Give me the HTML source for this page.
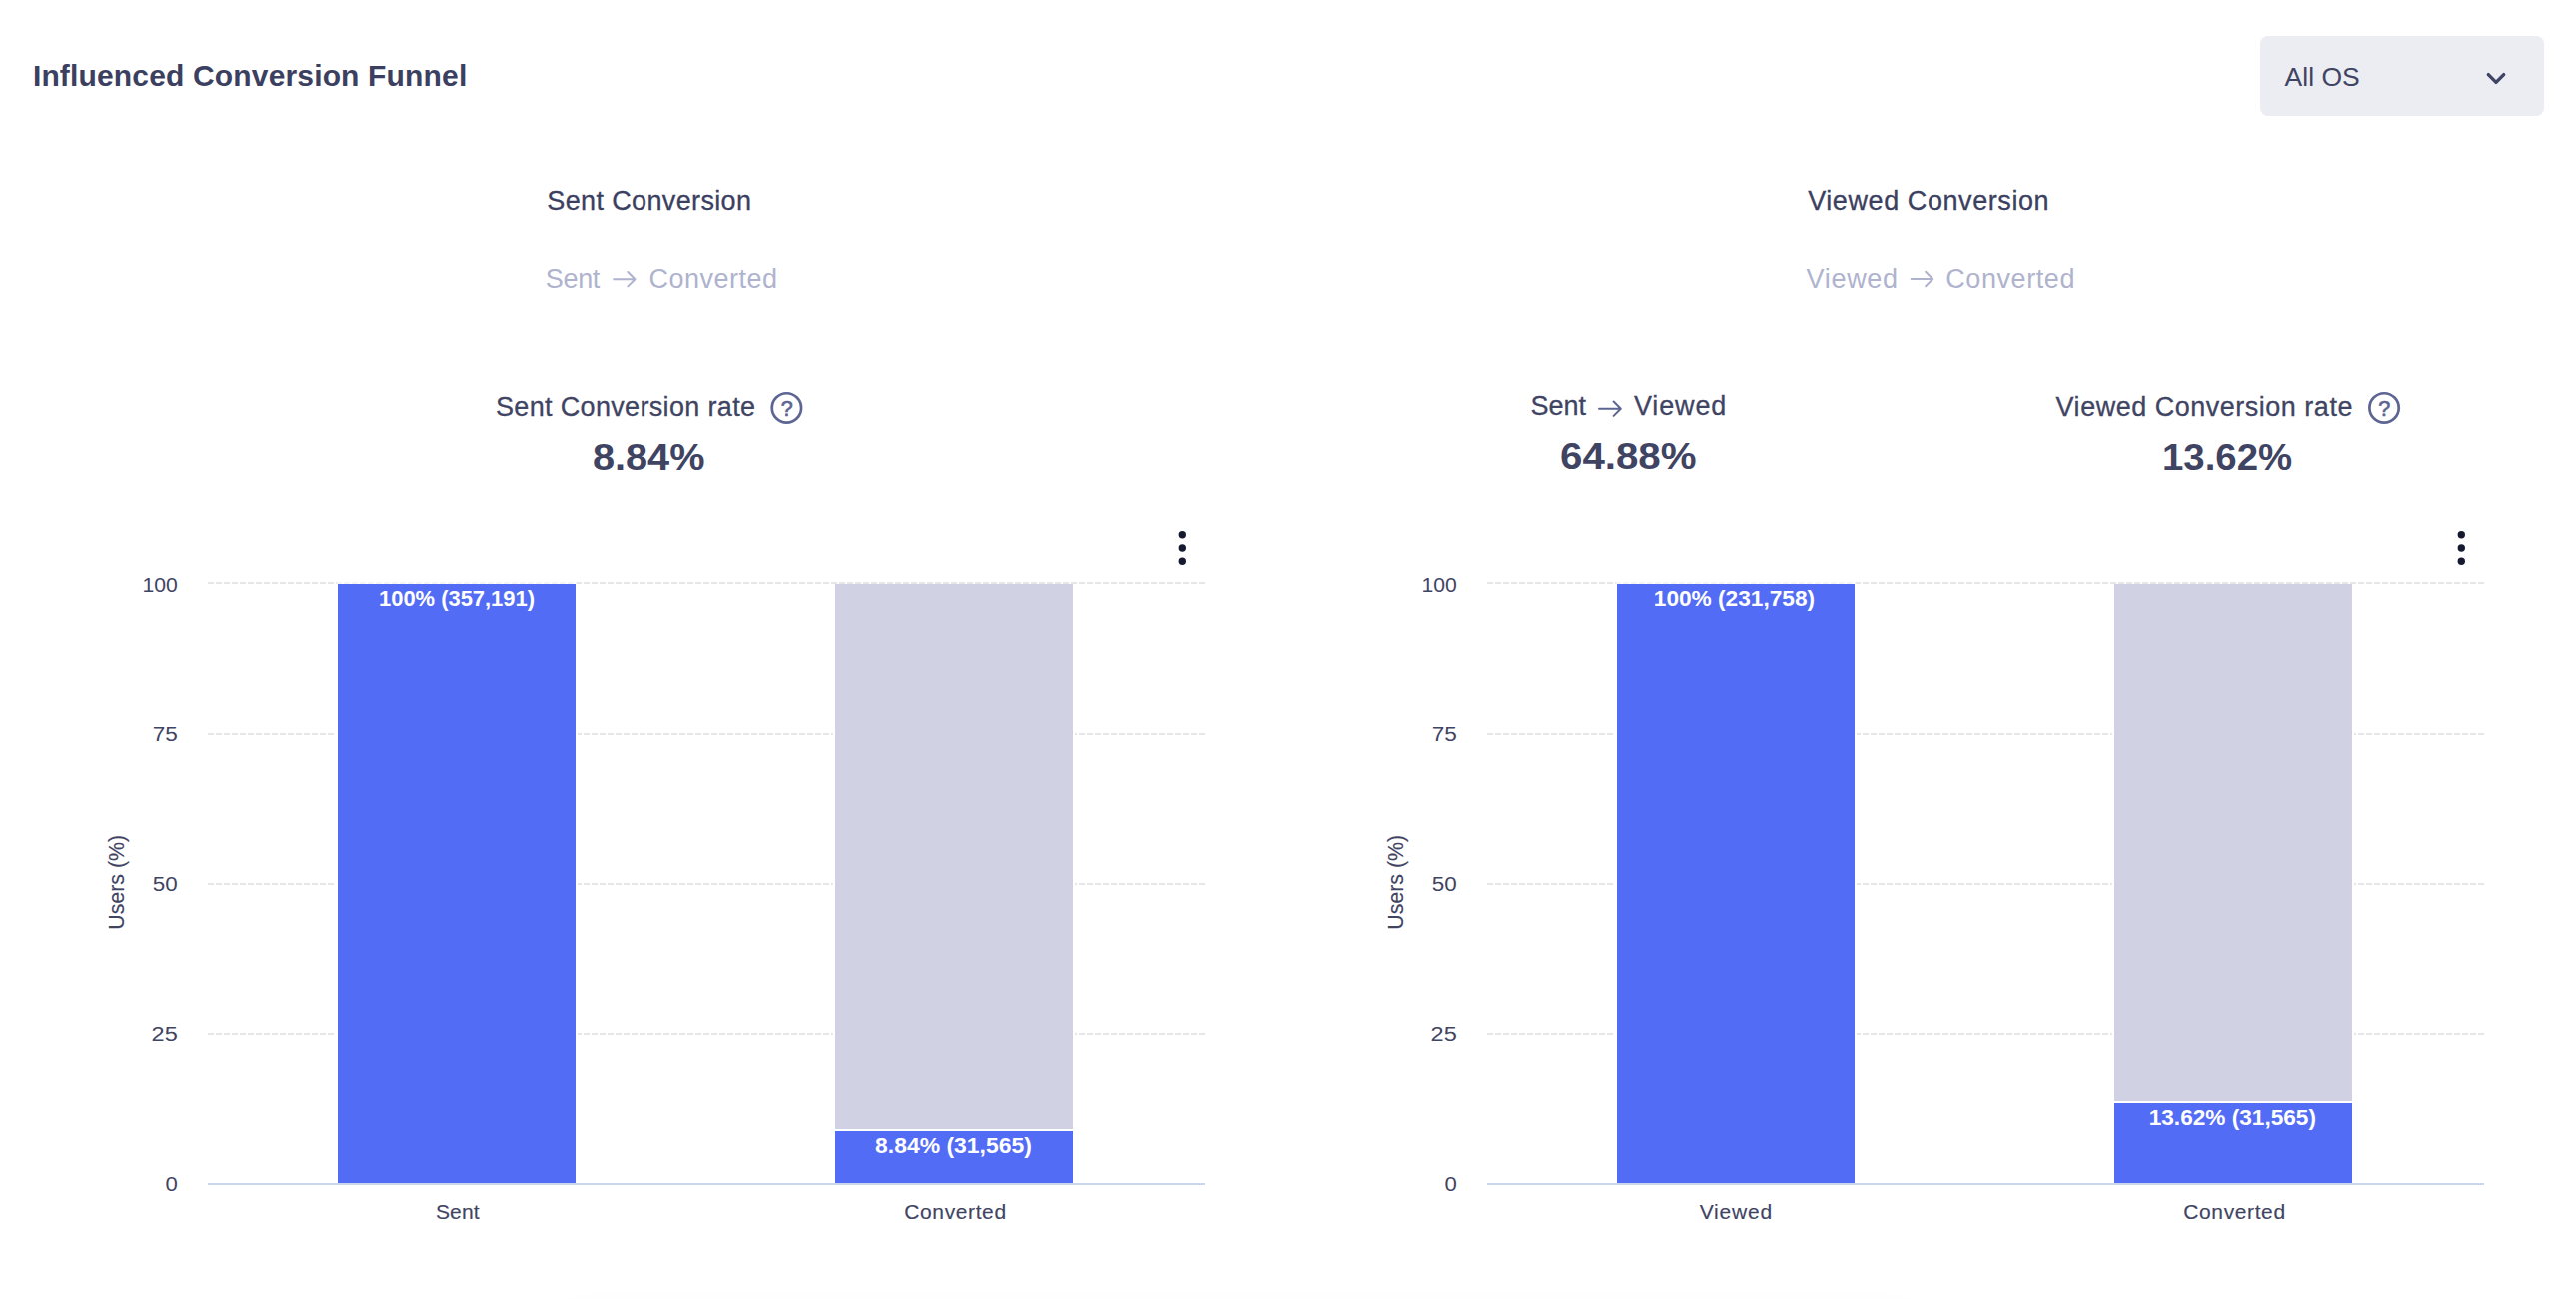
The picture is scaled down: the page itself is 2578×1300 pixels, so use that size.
<!DOCTYPE html>
<html lang="en"><head><meta charset="utf-8"><title>Influenced Conversion Funnel</title>
<style>
*{box-sizing:border-box}
html,body{margin:0;padding:0;background:#fff}
html{width:2578px;height:1300px;overflow:hidden}
body{width:2578px;height:1300px;position:relative;overflow:hidden;font-family:"Liberation Sans",Arial,sans-serif;color:#3f4463}
.card{position:absolute;left:0;top:0;width:2578px;height:1300px;background:#fff;overflow:hidden}
.t{position:absolute;margin:0;white-space:nowrap;font-weight:400;transform-origin:0 0}
.p-title,.m-label{-webkit-text-stroke:0.3px currentColor}
.ax{stroke:#3f4463;stroke-width:0.15px}
h2.t{font-weight:700}
.card-header,.panel,.flow,.metric,.chart-wrap{display:block;margin:0;padding:0;position:static}
.dropdown{position:static}
.dropdown::before{content:"";position:absolute;left:2262px;top:36px;width:284px;height:80px;border-radius:8px;background:#ecedf3}
.below-shadow{position:absolute;left:566px;top:1322px;width:1350px;height:60px;border-radius:8px;box-shadow:0 0 36px 6px rgba(30,35,70,.035)}
svg{position:absolute;overflow:visible}
svg text{font-family:"Liberation Sans",Arial,sans-serif}
</style></head><body>
<section class="card">
<div class="below-shadow"></div>
<header class="card-header">
<h2 class="t title" style="left:32.9px;top:57.5px;font-size:30px;line-height:36px;letter-spacing:0.159px;color:#3b4060;font-weight:700">Influenced Conversion Funnel</h2>
<div class="dropdown" role="button">
<span class="t dd-label" style="left:2286.6px;top:61.3px;font-size:26.5px;line-height:32px;letter-spacing:-0.005px;color:#3f4463">All OS</span>
<svg class="chev" style="left:2484px;top:67px" width="28" height="24" viewBox="0 0 28 24"><path d="M6.3 7.6L14 15.4L21.7 7.6" fill="none" stroke="#3f4463" stroke-width="3.4" stroke-linecap="round" stroke-linejoin="round"/></svg>
</div>
</header>
<article class="panel panel-sent">
<div class="t p-title" style="left:547.3px;top:185.2px;font-size:27px;line-height:32px;letter-spacing:0.365px;color:#3b4060">Sent Conversion</div>
<div class="flow"><div class="t p-sub" style="left:545.8px;top:263.0px;font-size:27px;line-height:32px;letter-spacing:-0.347px;color:#afb3ce">Sent</div><svg class="arrow" style="left:610px;top:268px" width="31" height="24" viewBox="0 0 31 24"><path d="M4.2 11.2H25.0M18.3 4.0L25.5 11.2L18.3 18.4" fill="none" stroke="#afb3ce" stroke-width="2.0" stroke-linecap="round" stroke-linejoin="round"/></svg><div class="t p-sub" style="left:649.5px;top:263.0px;font-size:27px;line-height:32px;letter-spacing:0.481px;color:#afb3ce">Converted</div></div>
<div class="metric"><div class="t m-label" style="left:496.0px;top:391.2px;font-size:27px;line-height:32px;letter-spacing:0.336px;color:#3f4463">Sent Conversion rate</div><svg class="help" style="left:769px;top:389px" width="36" height="36" viewBox="0 0 36 36"><circle cx="18.4" cy="18.9" r="14.65" fill="none" stroke="#5d6692" stroke-width="2.7"/><text x="18.7" y="26.7" text-anchor="middle" fill="#5d6692" stroke="#5d6692" stroke-width="0.7" style="font-size:21.6px">?</text></svg><div class="t m-val" style="left:593.24px;top:434.7px;font-size:37.5px;line-height:45px;letter-spacing:0px;color:#3f4463;font-weight:700;transform:scaleX(1.0573)">8.84%</div></div>
<figure class="chart-wrap">
<svg class="chart" style="left:80px;top:500px" width="1170" height="760" viewBox="0 0 1170 760">
<path d="M128 83H1126" stroke="#e6e6e6" stroke-width="2" stroke-dasharray="6 2" fill="none"/>
<path d="M128 235H1126" stroke="#e6e6e6" stroke-width="2" stroke-dasharray="6 2" fill="none"/>
<path d="M128 385H1126" stroke="#e6e6e6" stroke-width="2" stroke-dasharray="6 2" fill="none"/>
<path d="M128 535H1126" stroke="#e6e6e6" stroke-width="2" stroke-dasharray="6 2" fill="none"/>
<path d="M128 685H1126" stroke="#ccd6eb" stroke-width="2" fill="none"/>
<rect x="257" y="82" width="240" height="2" fill="#fff" fill-opacity="0.6"/>
<rect x="256" y="84" width="242" height="600" fill="#fff"/>
<rect x="754" y="84" width="242" height="600" fill="#fff"/>
<rect x="258" y="84" width="238" height="600" fill="#536cf5"/>
<rect x="756" y="84" width="238" height="546" fill="#d0d2e3"/>
<rect x="756" y="632" width="238" height="52" fill="#536cf5"/>
<text transform="translate(44.3 383.3) rotate(-90) scale(0.955 1)" text-anchor="middle" fill="#3f4463" class="ax" style="font-size:22.4px">Users (%)</text>
<text transform="translate(62.39 92.2) scale(1.0072 1)" fill="#3f4463" class="ay" style="font-size:21px;letter-spacing:0px">100</text>
<text transform="translate(72.63 242.1) scale(1.0748 1)" fill="#3f4463" class="ay" style="font-size:21px;letter-spacing:0px">75</text>
<text transform="translate(72.8 391.9) scale(1.0671 1)" fill="#3f4463" class="ay" style="font-size:21px;letter-spacing:0px">50</text>
<text transform="translate(71.58 541.9) scale(1.1209 1)" fill="#3f4463" class="ay" style="font-size:21px;letter-spacing:0px">25</text>
<text transform="translate(85.4 692.0) scale(1.0545 1)" fill="#3f4463" class="ay" style="font-size:21px;letter-spacing:0px">0</text>
<text x="356.0" y="720.0" fill="#3f4463" class="ax" style="font-size:21px;letter-spacing:0.112px">Sent</text>
<text x="825.3" y="720.0" fill="#3f4463" class="ax" style="font-size:21px;letter-spacing:0.611px">Converted</text>
<text transform="translate(299.0 106.2) scale(0.9966 1)" fill="#ffffff" font-weight="700" class="dl" style="font-size:22px;letter-spacing:0px">100% (357,191)</text>
<text transform="translate(796.0 654.3) scale(1.0426 1)" fill="#ffffff" font-weight="700" class="dl" style="font-size:22px;letter-spacing:0px">8.84% (31,565)</text>
<circle cx="1103.3" cy="34.7" r="3.7" fill="#161a30"/>
<circle cx="1103.3" cy="48.0" r="3.7" fill="#161a30"/>
<circle cx="1103.3" cy="61.3" r="3.7" fill="#161a30"/>
</svg>
</figure>
</article>
<article class="panel panel-viewed">
<div class="t p-title" style="left:1809.2px;top:185.2px;font-size:27px;line-height:32px;letter-spacing:0.58px;color:#3b4060">Viewed Conversion</div>
<div class="flow"><div class="t p-sub" style="left:1807.6px;top:263.0px;font-size:27px;line-height:32px;letter-spacing:0.67px;color:#afb3ce">Viewed</div><svg class="arrow" style="left:1908px;top:267px" width="31" height="24" viewBox="0 0 31 24"><path d="M4.7 12.0H25.8M19.1 4.8L26.3 12.0L19.1 19.2" fill="none" stroke="#afb3ce" stroke-width="2.0" stroke-linecap="round" stroke-linejoin="round"/></svg><div class="t p-sub" style="left:1947.3px;top:263.0px;font-size:27px;line-height:32px;letter-spacing:0.568px;color:#afb3ce">Converted</div></div>
<div class="metric"><div class="t m-label" style="left:1531.6px;top:390.0px;font-size:27px;line-height:32px;letter-spacing:-0.047px;color:#3f4463">Sent</div><svg class="arrow" style="left:1596px;top:397px" width="31" height="24" viewBox="0 0 31 24"><path d="M4.0 11.7H25.3M18.6 4.5L25.8 11.7L18.6 18.9" fill="none" stroke="#5d6692" stroke-width="2.0" stroke-linecap="round" stroke-linejoin="round"/></svg><div class="t m-label" style="left:1635.0px;top:390.0px;font-size:27px;line-height:32px;letter-spacing:0.85px;color:#3f4463">Viewed</div><div class="t m-val" style="left:1561.13px;top:433.7px;font-size:37.5px;line-height:45px;letter-spacing:0px;color:#3f4463;font-weight:700;transform:scaleX(1.0736)">64.88%</div></div>
<div class="metric"><div class="t m-label" style="left:2057.6px;top:391.2px;font-size:27px;line-height:32px;letter-spacing:0.507px;color:#3f4463">Viewed Conversion rate</div><svg class="help" style="left:2368px;top:389px" width="36" height="36" viewBox="0 0 36 36"><circle cx="18.05" cy="18.9" r="14.65" fill="none" stroke="#5d6692" stroke-width="2.7"/><text x="18.35" y="26.7" text-anchor="middle" fill="#5d6692" stroke="#5d6692" stroke-width="0.7" style="font-size:21.6px">?</text></svg><div class="t m-val" style="left:2163.55px;top:434.7px;font-size:37.5px;line-height:45px;letter-spacing:0px;color:#3f4463;font-weight:700;transform:scaleX(1.0237)">13.62%</div></div>
<figure class="chart-wrap">
<svg class="chart" style="left:1360px;top:500px" width="1170" height="760" viewBox="0 0 1170 760">
<path d="M128 83H1126" stroke="#e6e6e6" stroke-width="2" stroke-dasharray="6 2" fill="none"/>
<path d="M128 235H1126" stroke="#e6e6e6" stroke-width="2" stroke-dasharray="6 2" fill="none"/>
<path d="M128 385H1126" stroke="#e6e6e6" stroke-width="2" stroke-dasharray="6 2" fill="none"/>
<path d="M128 535H1126" stroke="#e6e6e6" stroke-width="2" stroke-dasharray="6 2" fill="none"/>
<path d="M128 685H1126" stroke="#ccd6eb" stroke-width="2" fill="none"/>
<rect x="257" y="82" width="240" height="2" fill="#fff" fill-opacity="0.6"/>
<rect x="256" y="84" width="242" height="600" fill="#fff"/>
<rect x="754" y="84" width="242" height="600" fill="#fff"/>
<rect x="258" y="84" width="238" height="600" fill="#536cf5"/>
<rect x="756" y="84" width="238" height="518" fill="#d0d2e3"/>
<rect x="756" y="604" width="238" height="80" fill="#536cf5"/>
<text transform="translate(44.3 383.3) rotate(-90) scale(0.955 1)" text-anchor="middle" fill="#3f4463" class="ax" style="font-size:22.4px">Users (%)</text>
<text transform="translate(62.39 92.2) scale(1.0072 1)" fill="#3f4463" class="ay" style="font-size:21px;letter-spacing:0px">100</text>
<text transform="translate(72.63 242.1) scale(1.0748 1)" fill="#3f4463" class="ay" style="font-size:21px;letter-spacing:0px">75</text>
<text transform="translate(72.8 391.9) scale(1.0671 1)" fill="#3f4463" class="ay" style="font-size:21px;letter-spacing:0px">50</text>
<text transform="translate(71.58 541.9) scale(1.1209 1)" fill="#3f4463" class="ay" style="font-size:21px;letter-spacing:0px">25</text>
<text transform="translate(85.4 692.0) scale(1.0545 1)" fill="#3f4463" class="ay" style="font-size:21px;letter-spacing:0px">0</text>
<text x="340.7" y="720.0" fill="#3f4463" class="ax" style="font-size:21px;letter-spacing:0.797px">Viewed</text>
<text x="825.3" y="720.0" fill="#3f4463" class="ax" style="font-size:21px;letter-spacing:0.611px">Converted</text>
<text transform="translate(294.77 106.2) scale(1.0314 1)" fill="#ffffff" font-weight="700" class="dl" style="font-size:22px;letter-spacing:0px">100% (231,758)</text>
<text transform="translate(790.67 626.4) scale(1.0289 1)" fill="#ffffff" font-weight="700" class="dl" style="font-size:22px;letter-spacing:0px">13.62% (31,565)</text>
<circle cx="1103.3" cy="34.7" r="3.7" fill="#161a30"/>
<circle cx="1103.3" cy="48.0" r="3.7" fill="#161a30"/>
<circle cx="1103.3" cy="61.3" r="3.7" fill="#161a30"/>
</svg>
</figure>
</article>
</section></body></html>
